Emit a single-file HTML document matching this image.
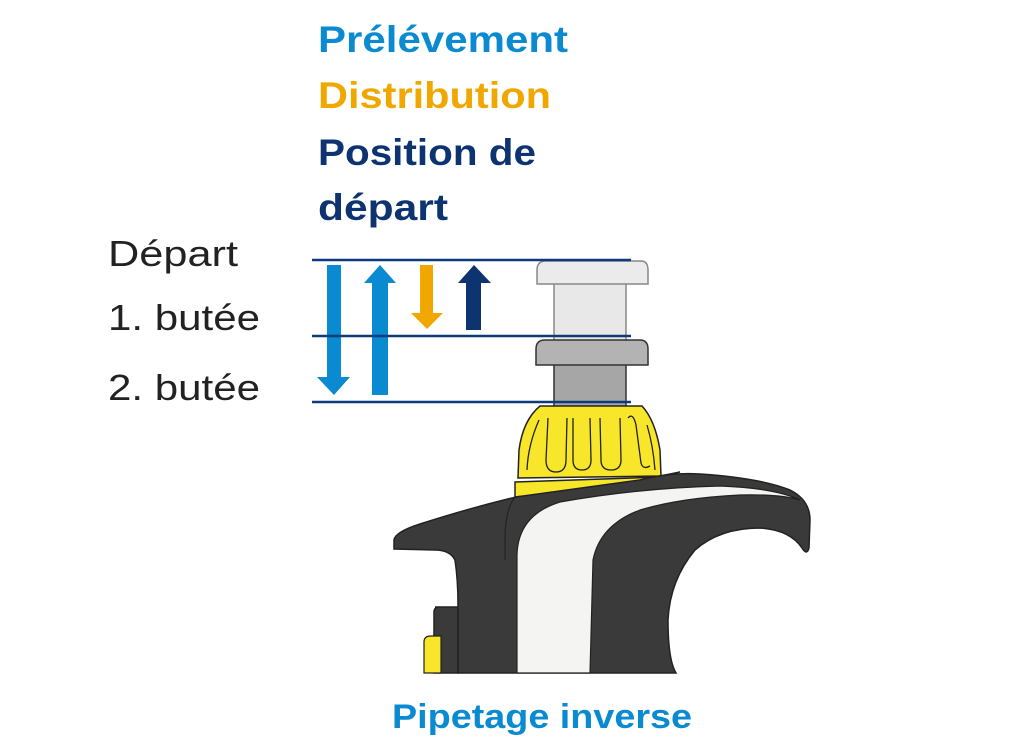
<!DOCTYPE html>
<html><head><meta charset="utf-8"><style>
html,body{margin:0;padding:0;background:#fff;}
svg{display:block;}
text{font-family:"Liberation Sans",sans-serif;}
</style></head><body>
<svg width="1024" height="742" viewBox="0 0 1024 742" xmlns="http://www.w3.org/2000/svg">
<text x="318" y="52" font-size="37" font-weight="bold" fill="#0a8ad0" textLength="250" lengthAdjust="spacingAndGlyphs">Prélévement</text>
<text x="318" y="108" font-size="37" font-weight="bold" fill="#f0a800" textLength="233" lengthAdjust="spacingAndGlyphs">Distribution</text>
<text x="318" y="165" font-size="37" font-weight="bold" fill="#0d3370" textLength="218" lengthAdjust="spacingAndGlyphs">Position de</text>
<text x="318" y="220" font-size="37" font-weight="bold" fill="#0d3370" textLength="130" lengthAdjust="spacingAndGlyphs">départ</text>
<text x="108" y="266" font-size="36" fill="#222" textLength="130" lengthAdjust="spacingAndGlyphs">Départ</text>
<text x="108" y="330" font-size="36" fill="#222" textLength="152" lengthAdjust="spacingAndGlyphs">1. butée</text>
<text x="108" y="400" font-size="36" fill="#222" textLength="152" lengthAdjust="spacingAndGlyphs">2. butée</text>
<text x="542" y="728" font-size="34" font-weight="bold" fill="#0a8ad0" text-anchor="middle" textLength="300" lengthAdjust="spacingAndGlyphs">Pipetage inverse</text>

<polygon points="327,265 341,265 341,377 350,377 334,395 317,377 327,377" fill="#0a8ad0"/>
<polygon points="372,395 388,395 388,283 396,283 380,265 364,283 372,283" fill="#0a8ad0"/>
<polygon points="420,265 433,265 433,313 443,313 427,329 411,313 420,313" fill="#f0a800"/>
<polygon points="466,330 481,330 481,283 491,283 474,265 458,283 466,283" fill="#0d3370"/>

<rect x="554" y="282" width="72" height="60" fill="#e8e8e8" stroke="#888" stroke-width="1.5"/>
<path d="M537,284 L537,270 Q537,261 546,261 L641,261 Q648,261 648,270 L648,284 Z" fill="#ebebeb" stroke="#888" stroke-width="1.5"/>
<rect x="554" y="362" width="72" height="46" fill="#a6a6a6" stroke="#333" stroke-width="1.5"/>
<path d="M536,365 L536,349 Q536,340 545,340 L640,340 Q648,340 648,349 L648,365 Z" fill="#b3b3b3" stroke="#333" stroke-width="1.5"/>

<line x1="312" y1="260" x2="631" y2="260" stroke="#0d3a7a" stroke-width="2.5"/>
<line x1="312" y1="336" x2="631" y2="336" stroke="#0d3a7a" stroke-width="2.5"/>
<line x1="312" y1="402" x2="631" y2="402" stroke="#0d3a7a" stroke-width="2.5"/>

<path d="M540,406 L642,406 Q655,420 660,450 L661,476 L518,478 L519,450 Q523,420 540,406 Z" fill="#f7e62a" stroke="#222" stroke-width="1.5"/>
<g fill="none" stroke="#222" stroke-width="1.3">
<path d="M539,420 Q528,445 527,470"/>
<path d="M548,418 L546,460 Q546,472 556,472 Q566,472 566,460 L567,418"/>
<path d="M573,418 L573,460 Q573,470 582,470 Q591,470 591,460 L590,418"/>
<path d="M600,418 L601,460 Q601,470 611,470 Q621,470 621,460 L620,418"/>
<path d="M628,418 Q633,412 636,425 L641,463 Q643,470 650,466"/>
<path d="M647,425 Q653,445 655,470"/>
</g>
<polygon points="515,482 660,477 680,472 600,488 515,497" fill="#f7e62a" stroke="#222" stroke-width="1.5"/>

<path d="M394,540 Q395,532 420,524 Q470,508 516,497 L640,480 Q670,472 700,474 Q760,478 790,490 Q810,500 810,520 L809,548 Q807,556 802,548 Q790,530 760,528 Q720,528 695,550 Q670,580 668,620 Q668,660 676,673 L458,673 L458,605 Q458,580 455,560 Q450,550 435,550 L394,549 Z" fill="#3a3a3a" stroke="#222" stroke-width="1.5"/>
<path d="M435,607 L458,607 L458,673 L434,673 L434,612 Q434,607 440,607 Z" fill="#3a3a3a" stroke="#222" stroke-width="1.5"/>
<path d="M424,642 Q424,636 431,636 L441,636 L441,673 L424,673 Z" fill="#f7e62a" stroke="#222" stroke-width="1.2"/>
<path d="M517,673 L517,555 Q518,515 560,502 Q640,488 720,486 Q775,488 800,500 Q780,494 740,495 Q680,498 640,510 Q600,525 593,560 L590,673 Z" fill="#f4f4f2" stroke="#222" stroke-width="1.2"/>
<path d="M515,497 Q505,510 505,540 L505,560" fill="none" stroke="#222" stroke-width="1.2"/>
</svg>
</body></html>
